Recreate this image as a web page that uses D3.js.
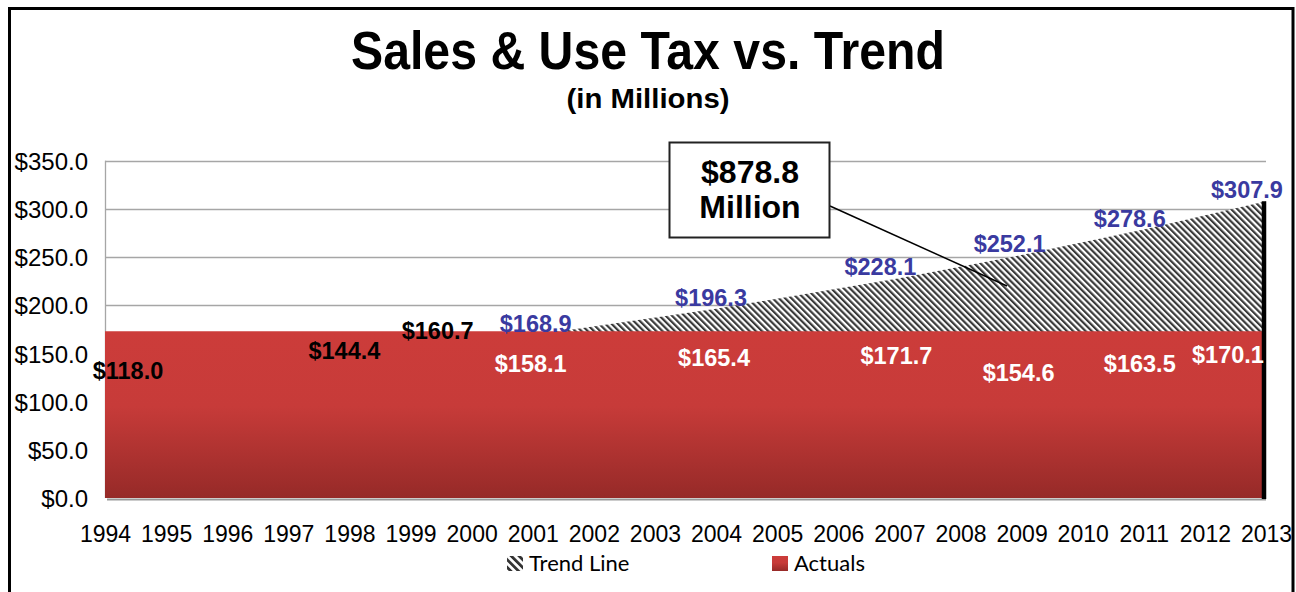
<!DOCTYPE html>
<html>
<head>
<meta charset="utf-8">
<script src="https://cdn.jsdelivr.net/npm/d3@7"></script>
<style>
  html, body { margin: 0; padding: 0; background: #fff; }
  svg { display: block; }
</style>
</head>
<body>
<div id="chart"></div>
<script>
// categories
const years = [1994, 1995, 1996, 1997, 1998, 1999, 2000, 2001, 2002, 2003,
  2004, 2005, 2006, 2007, 2008, 2009, 2010, 2011, 2012, 2013];

// trend line series (labelled points)
const trendYears = [1994, 2001, 2004, 2007, 2009, 2011, 2013];
const trendValues = [118.0, 168.9, 196.3, 228.1, 252.1, 278.6, 307.9];

// actuals area as drawn (flat band)
const actualAreaYears = [1994, 2013];
const actualAreaValues = [173.0, 173.0];

// actual value labels
const actualLabelYears = [1994, 1998, 2000, 2001, 2004, 2007, 2009, 2011, 2013];
const actualLabelValues = [118.0, 144.4, 160.7, 158.1, 165.4, 171.7, 154.6, 163.5, 170.1];

// y ticks
const yTicks = [0, 50, 100, 150, 200, 250, 300, 350];

// label nudges (pixels)
const actualLabelDx = [23, -5, -34, -2, -2, -3, -3, -4, -38];
const actualLabelDy = [48, 28, 8, 41, 35, 33, 50, 41, 32];
const trendLabelDx = [0, 3, -5, -19, -12, -14, -19];

const width = 1296, height = 592;
const margin = { left: 105, top: 160.7 };
const font = "'Liberation Sans', Arial, sans-serif";
const legendFont = "Lato, 'Open Sans', sans-serif";

const svg = d3.select("#chart").append("svg")
  .attr("width", width)
  .attr("height", height);

const defs = svg.append("defs");

const grad = defs.append("linearGradient")
  .attr("id", "redGrad")
  .attr("x1", 0).attr("y1", 0).attr("x2", 0).attr("y2", 1);
grad.append("stop").attr("offset", "0%").attr("stop-color", "#cc3c3a");
grad.append("stop").attr("offset", "45%").attr("stop-color", "#c73b39");
grad.append("stop").attr("offset", "100%").attr("stop-color", "#962a28");

const hatch = defs.append("pattern")
  .attr("id", "hatch")
  .attr("patternUnits", "userSpaceOnUse")
  .attr("width", 4.4)
  .attr("height", 10)
  .attr("patternTransform", "rotate(-45)");
hatch.append("rect").attr("width", 4.4).attr("height", 10).attr("fill", "#fff");
hatch.append("rect").attr("width", 2.2).attr("height", 10).attr("fill", "#3a3a3a");

const hatchBig = defs.append("pattern")
  .attr("id", "hatchBig")
  .attr("patternUnits", "userSpaceOnUse")
  .attr("width", 5.5)
  .attr("height", 10)
  .attr("patternTransform", "rotate(-45)");
hatchBig.append("rect").attr("width", 5.5).attr("height", 10).attr("fill", "#fff");
hatchBig.append("rect").attr("width", 2.8).attr("height", 10).attr("fill", "#333");

// outer frame
svg.append("rect")
  .attr("x", 9.5)
  .attr("y", 8.5)
  .attr("width", 1283.5)
  .attr("height", 600)
  .attr("fill", "none")
  .attr("stroke", "#000")
  .attr("stroke-width", 3);

// title
svg.append("text")
  .attr("x", 648)
  .attr("y", 69)
  .attr("text-anchor", "middle")
  .attr("textLength", 594)
  .attr("lengthAdjust", "spacingAndGlyphs")
  .style("font-family", font)
  .style("font-weight", "bold")
  .style("font-size", "53px")
  .text("Sales & Use Tax vs. Trend");

svg.append("text")
  .attr("x", 648)
  .attr("y", 108)
  .attr("text-anchor", "middle")
  .attr("textLength", 163)
  .attr("lengthAdjust", "spacingAndGlyphs")
  .style("font-family", font)
  .style("font-weight", "bold")
  .style("font-size", "27px")
  .text("(in Millions)");

const x = d3.scaleLinear()
  .domain([years[0], years[years.length - 1]])
  .range([margin.left, 1266]);

const y = d3.scaleLinear()
  .domain([0, 350])
  .range([498, margin.top]);

const g = svg.append("g");

// gridlines
g.append("g")
  .selectAll("line")
  .data(yTicks.filter((d) => d > 0))
  .join("line")
  .attr("x1", x.range()[0])
  .attr("x2", x.range()[1])
  .attr("y1", (d) => Math.round(y(d)) + 0.5)
  .attr("y2", (d) => Math.round(y(d)) + 0.5)
  .style("stroke", "#a6a6a6")
  .style("stroke-width", 1.3);

// left axis line
g.append("line")
  .attr("x1", x.range()[0] + 0.5)
  .attr("x2", x.range()[0] + 0.5)
  .attr("y1", y(350))
  .attr("y2", y(0))
  .style("stroke", "#a6a6a6")
  .style("stroke-width", 1.3);

// y axis labels
const yAxis = g.append("g")
  .attr("transform", "translate(" + (x.range()[0] - 17) + ",0)")
  .call(d3.axisLeft(y).tickValues(yTicks).tickSize(0).tickPadding(0)
    .tickFormat((d) => "$" + d3.format(".1f")(d)));
yAxis.select(".domain").remove();
yAxis.selectAll("text")
  .attr("dy", "0.36em")
  .attr("fill", "#000")
  .style("font-family", font)
  .style("font-size", "24px");

// x axis labels
const xAxis = g.append("g")
  .attr("transform", "translate(0," + 542 + ")")
  .call(d3.axisBottom(x).tickValues(years).tickSize(0).tickPadding(0)
    .tickFormat((d) => String(d)));
xAxis.select(".domain").remove();
xAxis.selectAll("text")
  .attr("dy", 0)
  .attr("y", 0)
  .attr("fill", "#000")
  .style("font-family", font)
  .style("font-size", "23px");

// trend area (hatched)
const trendData = trendYears.map((yr, i) => ({ year: yr, value: trendValues[i] }));
const area = d3.area()
  .x((d) => x(d.year))
  .y0(() => y(0))
  .y1((d) => y(d.value));

g.append("path")
  .datum(trendData)
  .attr("fill", "url(#hatch)")
  .attr("d", area);

// actuals area
const actualData = actualAreaYears.map((yr, i) => ({ year: yr, value: actualAreaValues[i] }));

g.append("line")
  .attr("x1", x(actualAreaYears[0]) + 2)
  .attr("x2", x(actualAreaYears[1]))
  .attr("y1", y(0) + 1.5)
  .attr("y2", y(0) + 1.5)
  .style("stroke", "#999")
  .style("stroke-width", 2);

g.append("path")
  .datum(actualData)
  .attr("fill", "url(#redGrad)")
  .attr("d", area);

// drop line at the last year
const lastYear = trendYears[trendYears.length - 1];
g.append("line")
  .attr("x1", x(lastYear) - 2)
  .attr("x2", x(lastYear) - 2)
  .attr("y1", y(trendValues[trendValues.length - 1]))
  .attr("y2", y(0) + 1)
  .style("stroke", "#000")
  .style("stroke-width", 4.5);

// trend labels
g.append("g")
  .selectAll("text")
  .data(trendData.slice(1))
  .join("text")
  .attr("x", (d, i) => x(d.year) + trendLabelDx[i + 1])
  .attr("y", (d) => y(d.value) - 3)
  .attr("text-anchor", "middle")
  .attr("fill", "#3a3aa0")
  .style("font-family", font)
  .style("font-weight", "bold")
  .style("font-size", "23.5px")
  .text((d) => "$" + d3.format(".1f")(d.value));

// actual labels
g.append("g")
  .selectAll("text")
  .data(actualLabelValues)
  .join("text")
  .attr("x", (d, i) => x(actualLabelYears[i]) + actualLabelDx[i])
  .attr("y", (d, i) => y(actualAreaValues[0]) + actualLabelDy[i])
  .attr("text-anchor", "middle")
  .attr("fill", (d, i) => (i < 3 ? "#000" : "#fff"))
  .style("font-family", font)
  .style("font-weight", "bold")
  .style("font-size", "23.5px")
  .text((d) => "$" + d3.format(".1f")(d));

// callout
g.append("line")
  .attr("x1", 830)
  .attr("y1", 206)
  .attr("x2", 1007)
  .attr("y2", 286)
  .style("stroke", "#000")
  .style("stroke-width", 1.5);

g.append("rect")
  .attr("x", 669.5)
  .attr("y", 142.5)
  .attr("width", 160)
  .attr("height", 95)
  .attr("fill", "#fff")
  .style("stroke", "#222")
  .style("stroke-width", 2);

g.append("text")
  .attr("x", 750)
  .attr("y", 183)
  .attr("text-anchor", "middle")
  .style("font-family", font)
  .style("font-weight", "bold")
  .style("font-size", "32px")
  .text("$878.8");

g.append("text")
  .attr("x", 750)
  .attr("y", 218)
  .attr("text-anchor", "middle")
  .style("font-family", font)
  .style("font-weight", "bold")
  .style("font-size", "32px")
  .text("Million");

// legend
const legend = svg.append("g");
legend.append("rect")
  .attr("x", 507).attr("y", 556)
  .attr("width", 16).attr("height", 15)
  .attr("fill", "url(#hatchBig)");
legend.append("text")
  .attr("x", 529).attr("y", 571)
  .style("font-family", legendFont)
  .style("font-size", "22px")
  .text("Trend Line");
legend.append("rect")
  .attr("x", 772).attr("y", 556)
  .attr("width", 16).attr("height", 15)
  .attr("fill", "url(#redGrad)");
legend.append("text")
  .attr("x", 794).attr("y", 571)
  .style("font-family", legendFont)
  .style("font-size", "22px")
  .text("Actuals");
</script>
</body>
</html>
